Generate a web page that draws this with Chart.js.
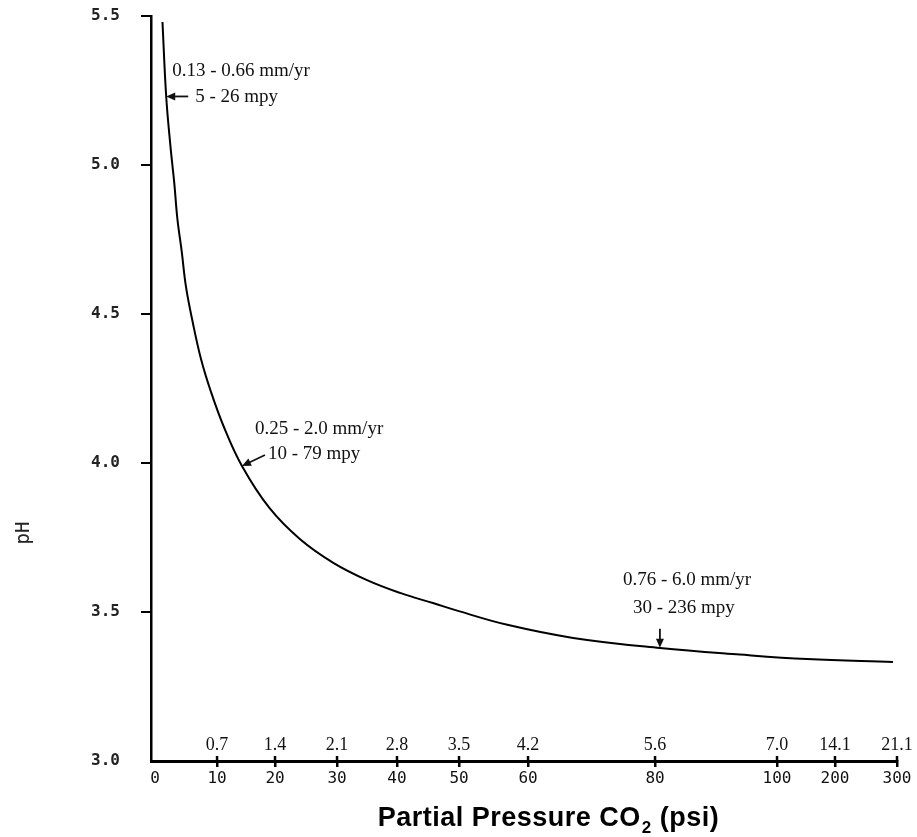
<!DOCTYPE html>
<html><head><meta charset="utf-8">
<script src="https://cdn.jsdelivr.net/npm/chart.js@4/dist/chart.umd.min.js"></script>
<style>html,body{margin:0;padding:0;background:#fff}#wrap{width:917px;height:837px}</style>
</head><body><div id="wrap"><canvas id="c" width="917" height="837"></canvas></div>
<script>
// ---- data ----
const psiTicks = [0, 10, 20, 30, 40, 50, 60, 80, 100, 200, 300];
const upperTickLabels = ['', '0.7', '1.4', '2.1', '2.8', '3.5', '4.2', '5.6', '7.0', '14.1', '21.1'];
const phTicks = [3.0, 3.5, 4.0, 4.5, 5.0, 5.5];
const curvePsi = [1.2, 1.8, 2.5, 3.1, 3.6, 4.3, 5.0, 6.1, 7.4, 9.0, 11.2, 14.3, 19.0, 24.0, 29.4, 35.0, 40.5, 45.8, 50.1, 57.0, 67.1, 80.8, 93.9, 151.7, 293.5];
const curvePH  = [5.48, 5.23, 5.06, 4.94, 4.82, 4.71, 4.59, 4.47, 4.35, 4.24, 4.12, 3.99, 3.85, 3.745, 3.665, 3.607, 3.564, 3.53, 3.502, 3.457, 3.413, 3.379, 3.357, 3.342, 3.332];
const annPsi = [1.8, 14.3, 80.8];
const annPH  = [5.23, 3.99, 3.38];
const annRate = ['0.13 - 0.66 mm/yr', '0.25 - 2.0 mm/yr', '0.76 - 6.0 mm/yr'];
const annMpy  = ['5 - 26 mpy', '10 - 79 mpy', '30 - 236 mpy'];
const xTitleMain = 'Partial Pressure CO';
const xTitleSub = '2';
const xTitleEnd = ' (psi)';
const yTitle = 'pH';

// ---- non-uniform x scale (axis as drawn in the original) ----
const xBreakFrac = [0, 0.0836, 0.1617, 0.2453, 0.3261, 0.4097, 0.5027, 0.6739, 0.8383, 0.9164, 1];
function psiToFrac(v) {
  const p = psiTicks, f = xBreakFrac;
  for (let i = 1; i < p.length; i++) {
    if (v <= p[i] || i === p.length - 1) {
      return f[i - 1] + (v - p[i - 1]) * (f[i] - f[i - 1]) / (p[i] - p[i - 1]);
    }
  }
}
function fracToPsi(d) {
  const p = psiTicks, f = xBreakFrac;
  for (let i = 1; i < f.length; i++) {
    if (d <= f[i] || i === f.length - 1) {
      return p[i - 1] + (d - f[i - 1]) * (p[i] - p[i - 1]) / (f[i] - f[i - 1]);
    }
  }
}
class PiecewiseScale extends Chart.LinearScale {
  _f0() { return psiToFrac(this.min); }
  _f1() { return psiToFrac(this.max); }
  getPixelForValue(v) {
    return this.getPixelForDecimal((psiToFrac(v) - this._f0()) / (this._f1() - this._f0()));
  }
  getValueForPixel(px) {
    const d = this.getDecimalForPixel(px);
    return fracToPsi(this._f0() + d * (this._f1() - this._f0()));
  }
}
PiecewiseScale.id = 'piecewise';
PiecewiseScale.defaults = {};
Chart.register(PiecewiseScale);

const serif = "'Liberation Serif', 'Times New Roman', serif";
const mono = "'DejaVu Sans Mono', monospace";

const overlay = {
  id: 'overlay',
  afterDraw(chart) {
    const ctx = chart.ctx, xs = chart.scales.x, ys = chart.scales.y;
    ctx.save();
    ctx.fillStyle = '#111';
    ctx.strokeStyle = '#000';
    // small tick marks crossing above the x axis line
    ctx.lineWidth = 2.5;
    psiTicks.forEach(v => {
      if (v === 0) return;
      const px = xs.getPixelForValue(v);
      ctx.beginPath(); ctx.moveTo(px, ys.bottom - 5); ctx.lineTo(px, ys.bottom); ctx.stroke();
    });
    // upper (secondary) tick labels
    ctx.font = '18px ' + serif;
    ctx.textAlign = 'center';
    ctx.textBaseline = 'middle';
    psiTicks.forEach((v, i) => {
      if (!upperTickLabels[i]) return;
      ctx.fillText(upperTickLabels[i], xs.getPixelForValue(v), ys.bottom - 16);
    });
    // annotations
    const offs = [
      {tail: [22, 0], t1: [6, -25], t2: [29, 1]},
      {tail: [23, -11], t1: [13, -37], t2: [26, -12]},
      {tail: [0, -19], t1: [-37, -68], t2: [-27, -40]}
    ];
    ctx.textAlign = 'left';
    ctx.strokeStyle = '#111';
    annPsi.forEach((v, i) => {
      const tx = xs.getPixelForValue(v), ty = ys.getPixelForValue(annPH[i]);
      const o = offs[i];
      ctx.font = '19px ' + serif;
      ctx.fillText(annRate[i], tx + o.t1[0], ty + o.t1[1]);
      ctx.fillText(annMpy[i], tx + o.t2[0], ty + o.t2[1]);
      const ax = tx + o.tail[0], ay = ty + o.tail[1];
      const ang = Math.atan2(ty - ay, tx - ax);
      ctx.lineWidth = 1.8;
      ctx.beginPath();
      ctx.moveTo(ax, ay);
      ctx.lineTo(tx - 4 * Math.cos(ang), ty - 4 * Math.sin(ang));
      ctx.stroke();
      ctx.beginPath();
      ctx.moveTo(tx, ty);
      ctx.lineTo(tx - 9 * Math.cos(ang) + 4 * Math.sin(ang), ty - 9 * Math.sin(ang) - 4 * Math.cos(ang));
      ctx.lineTo(tx - 9 * Math.cos(ang) - 4 * Math.sin(ang), ty - 9 * Math.sin(ang) + 4 * Math.cos(ang));
      ctx.closePath();
      ctx.fill();
    });
    // x title
    ctx.fillStyle = '#000';
    ctx.textBaseline = 'alphabetic';
    try { ctx.letterSpacing = '0.5px'; } catch (e) {}
    const fBig = "bold 27px 'Liberation Sans', Arial, sans-serif";
    const fSub = "bold 17px 'Liberation Sans', Arial, sans-serif";
    ctx.font = fBig;
    const w1 = ctx.measureText(xTitleMain).width, w3 = ctx.measureText(xTitleEnd).width;
    ctx.font = fSub;
    const w2 = ctx.measureText(xTitleSub).width;
    const x0 = 548 - (w1 + w2 + w3) / 2;
    const base = 826;
    ctx.font = fBig; ctx.fillText(xTitleMain, x0, base);
    ctx.font = fSub; ctx.fillText(xTitleSub, x0 + w1 + 1, base + 7);
    ctx.font = fBig; ctx.fillText(xTitleEnd, x0 + w1 + w2 + 1, base);
    try { ctx.letterSpacing = '0px'; } catch (e) {}
    // y title
    ctx.save();
    ctx.translate(24, 533);
    ctx.rotate(-Math.PI / 2);
    ctx.font = '19px ' + mono;
    ctx.textAlign = 'center';
    ctx.textBaseline = 'middle';
    ctx.fillStyle = '#222';
    ctx.fillText(yTitle, 0, 0);
    ctx.restore();
    ctx.restore();
  }
};

new Chart(document.getElementById('c'), {
  type: 'line',
  data: {
    datasets: [{
      data: curvePsi.map((x, i) => ({x, y: curvePH[i]})),
      borderColor: '#000',
      borderWidth: 2,
      pointRadius: 0,
      tension: 0.4,
      fill: false
    }]
  },
  options: {
    responsive: false,
    animation: false,
    layout: {padding: {top: 16, right: 20, left: 0, bottom: 0}},
    plugins: {legend: {display: false}, tooltip: {enabled: false}},
    scales: {
      x: {
        type: 'piecewise',
        min: -0.65, max: 300,
        afterBuildTicks: s => { s.ticks = psiTicks.map(v => ({value: v})); },
        afterFit: s => { s.height = 76; s.paddingLeft = 0; },
        border: {display: true, color: '#000', width: 3},
        grid: {drawOnChartArea: false, drawTicks: true, tickLength: 6, lineWidth: 2.5,
               color: c => (c.tick && c.tick.value === 0) ? 'rgba(0,0,0,0)' : '#000'},
        ticks: {autoSkip: false, maxRotation: 0, padding: 2, color: '#111',
                font: {family: mono, size: 16}, callback: v => String(v)}
      },
      y: {
        type: 'linear',
        min: 3.0, max: 5.5,
        afterBuildTicks: s => { s.ticks = phTicks.map(v => ({value: v})); },
        afterFit: s => { s.width = 151; s.paddingTop = 0; s.paddingBottom = 0; },
        border: {display: true, color: '#000', width: 2.5},
        grid: {drawOnChartArea: false, drawTicks: true, tickLength: 10, lineWidth: 2,
               color: c => (c.tick && c.tick.value === 3) ? 'rgba(0,0,0,0)' : '#000'},
        ticks: {padding: 21, color: '#222', font: {family: mono, size: 16, weight: 'bold'},
                callback: v => Number(v).toFixed(1)}
      }
    }
  },
  plugins: [overlay]
});
</script>
</body></html>
